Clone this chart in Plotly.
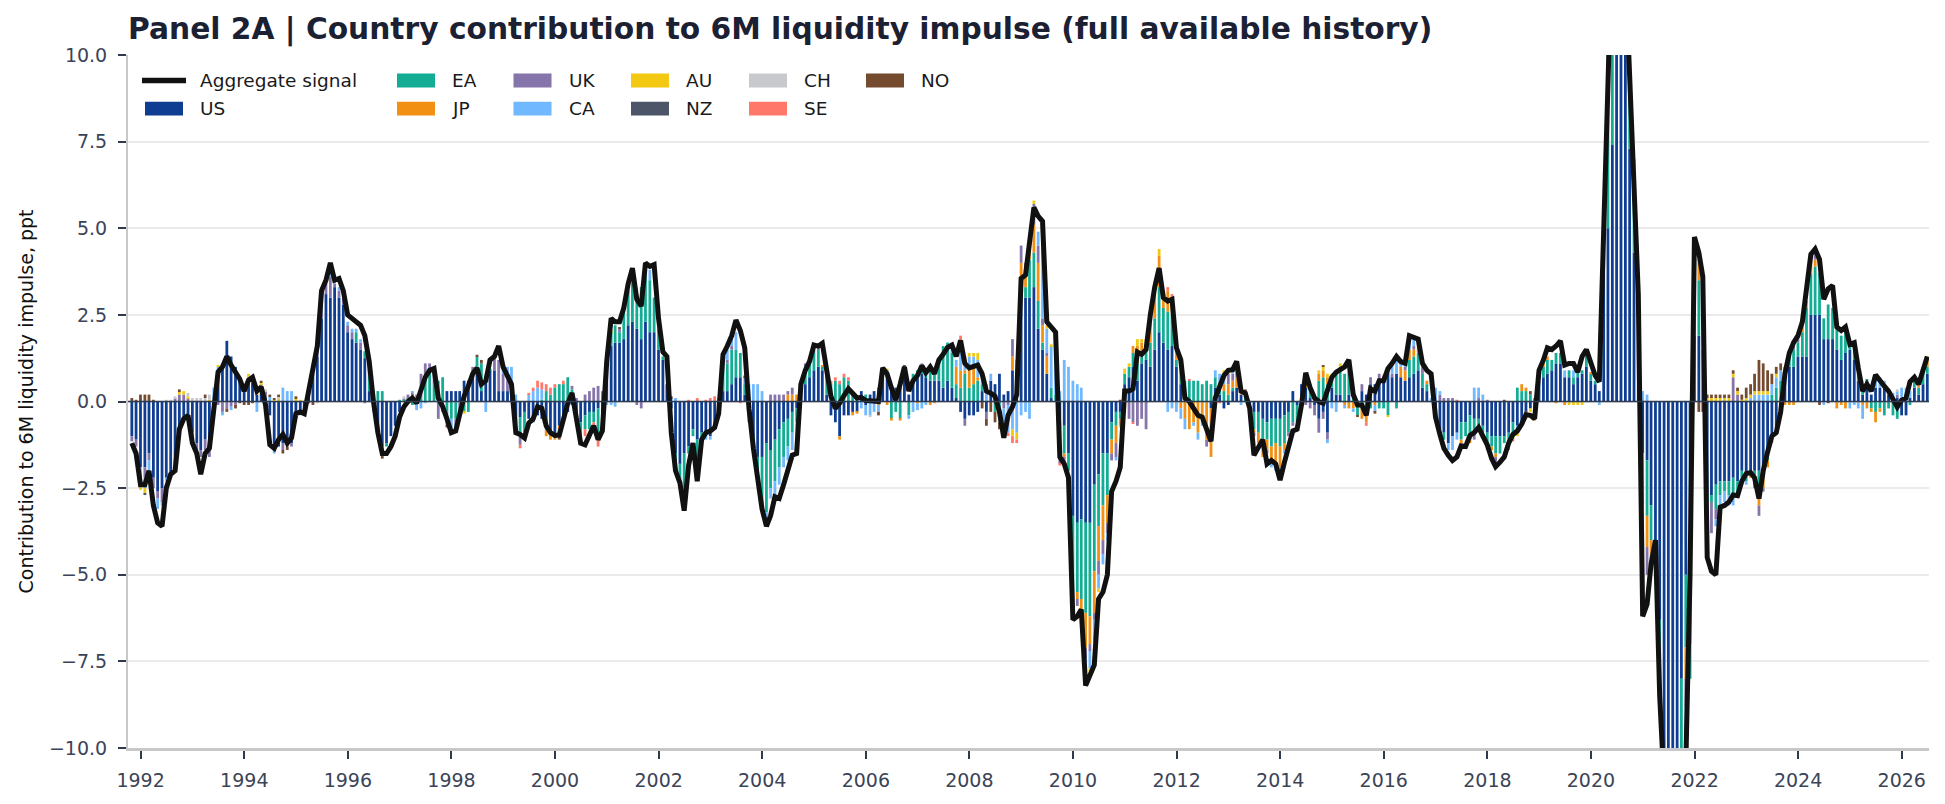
import pandas as pd
import plotly.graph_objects as go

# ---------------- data (monthly, month-end, Oct-1991 .. Jun-2026) ----------------
MONTHS = pd.date_range("1991-10-31", "2026-06-30", freq="ME")

AGGREGATE = [
    -1.2, -1.5, -2.4, -2.4, -2.0, -3.0, -3.5, -3.6, -2.5, -2.1, -2.0, -0.8,
    -0.5, -0.4, -1.2, -1.5, -2.1, -1.5, -1.35, -0.3, 0.85, 1.0, 1.3, 1.05,
    0.85, 0.65, 0.3, 0.62, 0.7, 0.3, 0.42, -0.1, -1.25, -1.35, -1.1, -0.95,
    -1.2, -1.05, -0.35, -0.3, -0.35, 0.35, 0.95, 1.6, 3.2, 3.5, 4.0, 3.5,
    3.55, 3.2, 2.5, 2.4, 2.3, 2.2, 1.9, 1.15, 0.0, -0.9, -1.5, -1.5,
    -1.3, -1.0, -0.45, -0.15, 0.0, 0.1, -0.05, 0.35, 0.7, 0.9, 0.95, 0.1,
    -0.15, -0.5, -0.9, -0.85, -0.35, 0.15, 0.45, 0.8, 0.97, 0.5, 0.6, 1.2,
    1.3, 1.6, 1.0, 0.72, 0.5, -0.9, -0.95, -1.05, -0.62, -0.5, -0.15, -0.2,
    -0.7, -0.9, -0.98, -0.97, -0.5, -0.05, 0.25, -0.6, -1.2, -1.25, -1.0, -0.7,
    -1.1, -0.85, 1.16, 2.4, 2.3, 2.3, 2.7, 3.4, 3.85, 2.95, 2.75, 4.0,
    3.9, 3.95, 2.4, 1.43, 1.3, -0.9, -2.0, -2.35, -3.15, -1.85, -1.2, -2.3,
    -1.1, -0.9, -0.85, -0.75, -0.35, 1.36, 1.6, 1.9, 2.35, 2.05, 1.55, -0.2,
    -1.35, -2.35, -3.1, -3.6, -3.3, -2.75, -2.8, -2.4, -1.95, -1.55, -1.5, 0.5,
    0.9, 1.16, 1.63, 1.6, 1.68, 0.9, 0.15, -0.2, -0.05, 0.17, 0.37, 0.24,
    0.1, 0.12, 0.03, 0.02, 0.0, 0.0, 0.97, 0.8, 0.4, 0.04, 0.5, 1.0,
    0.3, 0.6, 0.75, 1.03, 0.83, 1.0, 0.8, 1.2, 1.36, 1.56, 1.63, 1.3,
    1.76, 1.1, 0.97, 1.0, 1.05, 0.8, 0.3, 0.24, 0.15, -0.3, -1.05, -0.4,
    -0.15, 0.2, 3.55, 3.65, 4.5, 5.6, 5.35, 5.2, 2.3, 2.15, 2.0, -1.6,
    -1.8, -2.2, -6.3, -6.2, -6.0, -8.2, -7.9, -7.6, -5.7, -5.5, -5.0, -2.6,
    -2.3, -1.9, 0.3, 0.3, 0.37, 1.43, 1.36, 1.5, 2.5, 3.3, 3.85, 3.0,
    2.9, 2.95, 1.55, 1.2, 0.1, 0.0, -0.2, -0.4, -0.45, -0.8, -1.15, 0.1,
    0.4, 0.75, 0.9, 0.92, 1.16, 0.3, 0.24, -0.2, -1.55, -1.35, -1.1, -1.8,
    -1.7, -1.8, -2.27, -1.75, -1.35, -0.85, -0.8, -0.1, 0.83, 0.4, 0.1, 0.0,
    -0.05, 0.3, 0.7, 0.85, 0.93, 1.0, 1.2, 0.2, -0.1, -0.1, -0.4, 0.37,
    0.3, 0.6, 0.6, 0.95, 1.1, 1.3, 1.15, 1.1, 1.9, 1.83, 1.8, 1.1,
    0.9, 0.8, -0.45, -0.95, -1.35, -1.55, -1.7, -1.6, -1.28, -1.3, -0.98, -0.9,
    -0.75, -1.0, -1.25, -1.65, -1.88, -1.75, -1.6, -1.2, -0.95, -0.85, -0.65, -0.38,
    -0.4, -0.5, 0.9, 1.2, 1.55, 1.5, 1.6, 1.75, 1.05, 1.1, 1.1, 0.85,
    1.3, 1.5, 1.15, 0.75, 0.57, 5.0, 11.0, 13.5, 14.5, 14.0, 12.5, 9.4,
    6.2, 3.1, -6.2, -5.85, -4.7, -4.0, -8.5, -12.0, -13.5, -14.0, -13.0, -11.5,
    -10.5, -5.0, 4.75, 4.3, 3.6, -4.5, -4.9, -5.0, -3.05, -3.0, -2.9, -2.7,
    -2.72, -2.3, -2.08, -2.05, -2.2, -2.8, -2.0, -1.45, -1.0, -0.9, -0.3, 0.8,
    1.4, 1.7, 1.9, 2.3, 3.28, 4.25, 4.4, 4.1, 2.95, 3.25, 3.35, 2.15,
    2.05, 2.15, 1.65, 1.7, 0.97, 0.3, 0.5, 0.3, 0.77, 0.63, 0.44, 0.3,
    0.1, -0.16, 0.04, 0.1, 0.57, 0.7, 0.5, 0.97, 1.3,
]

US = [
    -1.0, -1.1, -1.9, -1.9, -1.5, -2.2, -2.6, -2.5, -2.2, -2.1, -1.8, -0.8,
    -0.5, -0.4, -0.9, -1.2, -1.4, -1.1, -1.3, -0.2, 0.9, 1.0, 1.75, 1.3,
    1.0, 0.55, 0.35, 0.6, 0.55, 0.2, 0.35, 0.1, -0.4, -1.3, -1.3, -1.2,
    -1.1, -1.2, -0.4, -0.3, -0.2, 0.3, 0.8, 1.3, 2.4, 3.1, 3.0, 3.3,
    3.0, 2.8, 2.0, 1.8, 1.7, 1.5, 1.25, 0.3, -0.2, -0.9, -1.3, -1.2,
    -1.0, -0.7, -0.3, 0, 0, 0, 0, 0, 0, 0, 0, 0,
    0, 0.3, 0.3, 0.3, 0.3, 0.6, 0.6, 0.9, 1.0, 0.3, 0.6, 0.9,
    0.9, 0.3, 0.3, 0.3, 0.1, -0.6, -0.45, -0.3, -0.5, -0.6, -0.4, -0.5,
    -0.8, -0.9, -1.0, -0.7, -0.4, -0.3, -0.1, -0.3, -0.6, -0.4, -0.3, -0.3,
    -0.2, -0.3, 0.9, 1.6, 1.7, 1.7, 1.8, 2.2, 2.3, 2.1, 1.8, 2.3,
    2.0, 2.0, 1.5, 1.2, 0.5, -0.2, -1.5, -1.8, -1.5, -1.3, -0.8, -1.1,
    -0.9, -0.9, -1.0, -0.7, -0.4, 0.3, 0.3, 0.5, 0.7, 0.7, 0.2, -0.4,
    -1.0, -1.6, -1.6, -1.2, -1.4, -1.1, -0.8, -0.6, -0.5, -0.3, -0.2, 0.2,
    0.5, 0.7, 0.9, 1.0, 0.9, 0.2, -0.4, -0.6, -1.0, -0.4, -0.4, -0.3,
    -0.3, 0.3, -0.1, 0.2, 0.3, 0.2, 0.9, 0.8, 0.3, 0.4, 0.5, 1.0,
    0.2, 0.6, 0.7, 0.8, 0.7, 0.6, 0.6, 0.6, 0.4, 0.6, 0.4, 0.1,
    -0.3, -0.5, -0.4, -0.4, -0.3, 0.3, -0.3, 0.6, 0.5, 0.8, 0.2, 0.3,
    0.9, 0.8, 3.1, 3.0, 3.0, 3.3, 2.1, 1.5, 0.8, 0.1, 0.0, -0.8,
    -0.7, -1.5, -3.3, -3.5, -3.4, -3.5, -3.5, -2.4, -2.1, -1.5, -1.5, -0.6,
    -0.3, -0.3, 0.5, 0.7, 1.0, 0.6, 1.1, 1.2, 1.0, 1.5, 2.0, 1.7,
    1.5, 1.6, 1.0, 0.5, 0.1, -0.1, 0, 0, 0, 0, -0.2, 0.4,
    0.2, -0.2, -0.1, 0.3, 0.4, 0.2, 0, -0.1, -0.3, -0.3, -0.5, -0.6,
    -0.5, -0.5, -0.5, -0.4, -0.3, 0.3, -0.1, 0.5, 0.4, 0.1, -0.1, -0.5,
    -0.3, -0.9, 0.4, 0.2, 0.2, 0.0, 0.2, 0, -0.1, 0.3, 0.2, 0.5,
    0.5, 0.6, 0.7, 0.9, 0.7, 0.8, 0.7, 0.6, 0.7, 0.8, 0.9, 0.4,
    0.3, 0.0, -0.4, -0.8, -0.9, -1.2, -1.0, -0.9, -0.6, -0.6, -0.4, -0.5,
    -0.5, -0.7, -0.9, -1.0, -1.0, -1.0, -1.0, -0.9, -0.6, -0.7, -0.6, -0.3,
    -0.2, -0.5, 0.6, 0.7, 0.8, 0.9, 1.1, 1.1, 0.7, 0.7, 0.5, 0.7,
    0.8, 1.0, 0.6, 0.5, 0.3, 4.3, 5.0, 7.4, 12.0, 12.0, 10.5, 7.3,
    4.3, 1.5, -1.5, -1.7, -3.0, -4.3, -6.3, -10.5, -11.0, -11.0, -10.5, -8.0,
    -5.0, -7.0, 1.9, 1.9, 1.5, -2.7, -2.7, -2.4, -2.3, -2.3, -2.3, -2.2,
    -2.3, -2.0, -2.1, -2.0, -2.0, -2.0, -1.9, -1.5, -1.0, -0.8, -0.4, 0.7,
    1.0, 1.0, 1.3, 1.3, 1.3, 2.5, 2.5, 2.5, 1.8, 1.8, 1.8, 1.5,
    1.2, 1.4, 1.5, 1.2, 0.6, 0.2, 0.6, 0.2, 0.4, 0.4, 0.4, 0.2,
    0.05, 0.1, -0.4, -0.4, 0.1, 0.4, 0.2, 0.5, 0.8,
]

EA = [
    0, 0, 0, 0, 0, 0, 0, 0, 0, 0, 0, 0,
    0, 0, 0, 0, 0, 0, 0, 0, 0, 0, 0, 0,
    0, 0, 0, 0, 0, 0, 0, 0, 0, 0, 0, 0,
    0, 0, 0, 0, 0, 0, 0, 0, 0, 0, 0, 0,
    0, 0, 0, 0, 0.3, 0, 0.2, 0.7, 0.3, 0.3, 0.3, -0.1,
    0, 0, 0.05, 0.05, 0.1, -0.1, 0, 0.1, 0.6, 0.9, 0.5, 0.6,
    0.7, -0.3, -0.5, -0.5, 0, -0.3, -0.3, 0, 0.3, 0.8, 0, 0.05,
    0, 0, 0, 0, 0, 0, -0.5, -0.6, 0, 0, 0, 0.05,
    0.3, 0.2, 0.4, 0.5, 0.5, 0.7, 0.35, -0.2, -0.4, -0.4, -0.5, -0.3,
    -0.8, -0.3, 0.1, 0.4, 0.5, 0.3, 0.9, 1.0, 1.3, 0.8, 1.5, 1.3,
    1.5, 1.0, 0.6, 0.1, 0, 0, -0.4, -0.5, -1.1, -0.2, -0.2, -0.5,
    -0.3, 0, 0, 0, 0, 0.6, 0.8, 1.0, 0.8, 0.7, 0.3, -0.2,
    -0.5, -0.8, -1.5, -2.0, -1.1, -1.2, -1.1, -1.0, -0.8, -0.6, -0.4, 0.2,
    0.3, 0.4, 0.5, 0.5, 0.1, 0.6, 0.5, 0.6, 0.5, 0.7, 0.6, 0.2,
    0.1, 0, 0.2, 0, 0, 0.2, 0, 0.1, -0.5, -0.3, -0.5, 0,
    -0.4, 0.2, 0.2, 0.2, 0.2, 0.4, 0.3, 0.6, 1.2, 1.1, 1.0, 0.4,
    0.4, 0.8, 0.4, 0.5, 0.6, 0.2, 0, 0, -0.3, -0.3, 0, 0,
    0, 0.1, 0.3, 0.3, 1.1, 1.0, 0.8, 0.2, 0, 0.3, 0.2, -0.6,
    -0.8, -0.5, -2.2, -2.0, -2.3, -2.6, -2.7, -2.5, -1.5, -1.5, -1.2, -0.5,
    -0.4, -0.2, 0.3, 0.3, 0.4, 0.5, 0.2, 0.3, 0.7, 0.9, 1.3, 1.0,
    1.1, 0.9, 0.2, 0.6, 0.5, 0.6, 0.6, 0.6, 0.5, 0.6, 0.5, 0.3,
    0.3, 0.3, 0.2, 0.1, 0, 0, 0.2, -0.3, -0.5, -0.6, -0.7, -0.5,
    -0.8, -0.7, -0.8, -0.8, -0.6, -0.6, -0.5, 0, 0, 0.3, 0.2, 0.6,
    0.7, 0.5, 0.3, 0.6, 0.8, 0.8, 0.9, 0.2, -0.3, -0.2, -0.3, -0.2,
    0, -0.2, -0.2, -0.4, 0, -0.2, 0, 0, 0.5, 0.5, 0.5, 0.4,
    0.2, 0, 0, 0, -0.2, 0, 0, 0, -0.5, -0.4, -0.6, -0.4,
    -0.2, -0.2, -0.5, -0.3, -0.5, -0.5, -0.2, -0.4, -0.3, 0.4, 0.3, 0.3,
    0.2, 0.1, 0.1, 0.3, 0.4, 0.3, 0.3, 0.3, 0, 0.2, 0.2, 0.2,
    0.1, 0.3, 0.2, 0.1, 0, 0.8, 5.0, 4.0, 1.5, 1.5, 1.5, 1.4,
    1.8, 0.6, -1.5, -1.6, -1.0, -0.5, -2.0, -1.0, -0.5, -0.5, -1.0, -2.0,
    -2.1, -1.0, 1.6, 1.6, 1.3, -0.3, -0.2, -0.7, -0.4, -0.3, -0.4, -0.5,
    -0.4, -0.2, -0.2, -0.1, -0.5, -0.5, -0.3, -0.2, 0.2, 0.4, 0.6, 0.2,
    0.3, 0.5, 0.4, 0.7, 1.4, 1.2, 1.4, 1.2, 0.6, 1.0, 0.9, 0.6,
    0.7, 0.6, 0.2, 0.3, 0.2, 0.1, 0.05, -0.2, -0.3, -0.2, -0.4, -0.2,
    -0.4, -0.5, 0, 0, -0.1, 0.3, 0.2, 0.3, 0.2,
]

JP = [
    0, 0, 0, 0, 0, 0, 0, 0, 0, 0, 0, 0,
    0, 0, 0, 0, 0, 0, 0, 0, 0, 0, 0, 0,
    0, 0, 0, 0, 0, 0, 0, 0, 0, 0, 0, 0,
    0, 0, 0, 0, 0, 0, 0, 0, 0, 0, 0, 0,
    0, 0, 0, 0, 0, 0, 0, 0, 0, 0, 0, 0,
    0, 0, 0, 0, 0, 0, 0, 0, 0, 0, 0, 0,
    0, 0, 0, 0, 0, 0, 0, 0, 0, 0, 0, 0,
    0, 0, 0, 0, 0, -0.05, 0, 0, 0, 0, 0, 0,
    -0.2, -0.2, -0.1, -0.3, 0, 0, 0, 0, 0, 0, 0, 0,
    0, 0, 0, 0, 0, 0, 0, 0, 0, 0, 0, 0,
    0, 0, 0, 0, 0, 0, 0, 0, 0, 0, 0, 0,
    0, 0, 0, 0, 0, 0, 0, 0, 0, 0, 0, 0,
    0, 0, 0, 0, 0, 0, 0, 0, 0.2, 0.2, 0.2, 0.1,
    0.2, 0, 0, 0, 0.05, 0, 0, 0, -0.1, 0, 0, -0.1,
    -0.05, 0, 0, 0, 0, -0.1, 0, -0.1, -0.05, 0, -0.05, 0,
    0, 0, -0.05, 0, 0, -0.1, -0.05, 0, 0, 0, 0, 0.5,
    0.5, 0.1, 0.6, 0.5, 0.1, 0, 0, 0, 0, 0, 0, 0,
    0.4, 0.3, 0.6, 0.3, 0.3, 0.8, 1.1, 0.5, 0.5, 0, 0, 0,
    -0.1, 0, 0, -0.2, -0.3, -1.0, -0.8, -1.2, -1.0, -1.0, -0.8, -0.4,
    -0.5, -0.2, 0, 0, 0.2, 0.5, 0.4, 0.3, 0.6, 0.7, 0.9, 0.3,
    0.6, 0.5, 0.4, -0.2, -0.5, -0.7, -0.6, -0.9, -0.5, -1.1, -1.4, -0.1,
    0, 0.2, 0.3, 0.2, 0.3, 0.1, 0.05, 0, -0.1, -0.3, -0.4, -0.3,
    -0.4, -0.6, -0.6, -0.2, 0, 0, 0, 0, 0.2, 0.1, 0, 0.2,
    0.2, 0.2, 0, 0, 0, -0.1, -0.2, -0.2, 0, -0.3, -0.3, 0,
    -0.1, 0, 0, 0, 0, 0, 0.3, 0.3, 0.3, 0.2, 0.3, 0,
    0.1, 0, 0, 0, 0, 0, 0, 0, -0.1, 0, -0.2, 0,
    0, 0, 0, -0.1, -0.1, 0, 0, -0.1, 0, 0, 0.2, 0.1,
    0, -0.05, 0, 0.1, 0.1, 0, -0.05, 0, -0.1, 0, 0, 0,
    0, 0, 0.05, 0, 0, 0, 0.5, 0, 0, 0, 0.5, 1.5,
    0.8, 0.5, -0.8, -0.9, -0.5, -0.2, 0, 0, 0, 0, 0, -0.3,
    -0.9, 0, 0.5, 0.5, 0.5, 0, 0, 0, 0, 0, 0, 0,
    0, 0, 0, -0.1, 0, -0.5, -0.3, -0.2, -0.2, 0, 0, -0.1,
    -0.1, -0.1, 0, 0.2, 0.2, 0.3, 0.2, 0, 0, 0, 0, -0.2,
    -0.1, -0.2, 0, 0, 0, -0.1, -0.2, -0.1, -0.3, -0.1, 0, 0,
    0, 0, 0, 0, 0, 0, 0.1, 0.1, 0.2,
]

UK = [
    -0.15, -0.2, 0, -0.3, -0.2, -0.3, -0.2, -0.4, 0, 0, 0.1, 0.2,
    0.2, 0.1, -0.2, -0.3, -0.2, -0.3, -0.3, -0.1, -0.1, -0.3, -0.2, -0.15,
    -0.1, 0, 0, 0, 0, 0, 0.15, 0.2, 0, 0, 0, -0.2,
    -0.2, -0.1, 0, 0, 0, 0, 0, 0.2, 0.6, 0.3, 0.6, 0.1,
    0.2, 0.2, 0.2, 0.2, 0, 0.2, -0.05, 0.1, 0, 0, 0, 0,
    0, 0, 0, 0.05, 0.1, 0.25, 0.2, 0.7, 0.5, 0.2, 0.5, -0.5,
    -0.3, -0.2, 0, -0.2, -0.4, 0, 0, 0.1, 0, 0, 0, 0,
    0.4, 0.9, 0.5, 0.3, 0, 0, -0.3, 0, 0, 0, 0, 0,
    0, 0, 0, 0, 0, 0, 0.1, 0.1, -0.1, 0.2, 0.3, 0.4,
    0.45, 0.3, 0, 0, 0, 0.1, 0, 0, 0, -0.1, -0.2, 0,
    0, 0, 0, 0, 0, 0, 0, 0, 0, 0, 0, 0,
    0, 0, 0, 0, 0, 0.1, 0.1, 0.1, 0, 0, 0, 0,
    0, 0, 0, 0, 0.2, 0.2, 0.2, 0.2, 0.1, 0.2, 0, 0.1,
    0.1, 0.1, 0.1, 0.05, 0, 0, 0, 0, 0, 0, 0, 0,
    0, 0, 0, 0, 0, 0, 0, 0, 0, 0, 0, 0,
    0, 0, 0, 0.1, 0, 0, 0, 0, 0, 0, 0, 0,
    0, -0.2, 0, 0, 0, 0, -0.2, 0, 0, 0, -0.2, -0.1,
    0.5, 0, 0.5, 0.4, 0, 0.6, 0.5, 0.2, 0.1, 0, 0, -0.4,
    -0.3, 0, -0.3, -0.2, 0, -0.3, -0.2, -0.2, -0.4, -0.4, -0.3, -0.2,
    -0.4, 0, 0, -0.5, -0.6, -0.7, -0.5, -0.8, 0, 0, 0, 0,
    0, 0, 0, 0, 0, 0, 0, 0, 0, -0.2, 0, 0,
    0, 0, 0.3, 0.2, 0.3, 0.1, 0, 0, -0.1, 0, 0, -0.1,
    0, 0, 0, 0, -0.1, -0.1, 0, -0.05, -0.1, -0.2, -0.3, -0.4,
    -0.2, -0.2, 0, 0, 0, 0, 0, 0, 0, 0.2, 0, 0.2,
    0, 0.2, 0, 0, 0.1, 0, 0, 0.1, 0, 0.1, 0, 0.3,
    0, 0, 0, 0.2, 0.1, 0.1, 0.1, 0, 0, 0, 0, -0.2,
    0.1, 0, 0.05, 0, -0.2, 0, 0, 0, 0, 0, 0, 0,
    0, 0, 0, 0, 0, 0, 0, 0, 0, 0, 0, 0,
    0, 0, 0, 0, 0, 0, 0, 0, 0, 0, 0, 0,
    0.1, 0, -0.5, -0.8, -0.3, 0, 0, 0, 0, 0, 0, 0,
    -0.8, 0, 0, 0, 0, -0.5, -0.9, -0.3, 0, 0, 0, 0.7,
    0.2, 0, 0, 0, 0, -0.3, -0.1, 0, 0, 0, 0, 0,
    0, 0.1, 0.2, 0.1, 0, 0.2, 0.3, 0, 0, 0, 0, 0,
    0, 0.2, 0, 0, 0, 0, 0, 0, 0, 0, 0, 0,
    0, 0.1, 0.1, 0.1, 0, 0, 0, 0, 0,
]

CA = [
    0, 0, -0.5, -0.3, -0.3, 0, -0.3, -0.1, -0.1, 0, 0, 0,
    0, 0, 0, -0.1, 0, 0, 0, 0.4, 0.1, -0.1, 0, -0.1,
    0, 0.1, 0.1, 0.1, 0, -0.3, 0, 0, 0.15, -0.2, 0, 0.4,
    0.3, 0.3, 0, 0, 0, 0, 0, 0, 0.1, 0.1, 0.2, 0.2,
    0.1, 0, 0.1, 0.1, 0.1, 0.1, 0, 0, -0.1, -0.1, -0.2, 0,
    0, 0, 0, 0, 0, 0.05, -0.25, -0.2, -0.05, 0, 0, 0,
    0, -0.2, -0.3, 0, 0, 0, 0, 0, 0, 0, -0.3, 0,
    0, 0, 0.2, 0.4, 0.9, 0.2, 0, 0, 0.2, 0.3, 0.4, 0.3,
    0, 0, 0, 0, 0, 0, 0, 0, 0, 0, 0, 0,
    0, 0, -0.1, -0.1, -0.15, 0, 0, 0, 0, 0, 0, 0.2,
    0.3, 0, 0, 0, 0, 0.1, 0.1, 0, 0, 0, 0, 0,
    -0.1, -0.2, -0.1, 0, -0.1, 0.2, 0.3, 0.3, 0.5, 0, 0.2, 0.5,
    0.5, 0.5, 0.3, -0.2, -0.3, -0.4, -0.5, -0.3, -0.4, -0.5, -0.5, 0,
    0, 0, 0, 0, 0, 0, 0, 0, 0, 0, 0, 0,
    0, -0.2, -0.3, -0.4, -0.3, -0.2, 0.1, 0, 0, 0, 0, 0,
    -0.1, -0.3, -0.2, -0.2, -0.1, 0, 0, 0, 0, 0, 0.2, 0.2,
    0.8, 0.3, 0.3, 0.3, 0.5, 0.4, 0.5, 0.2, 0, -0.3, -0.5, -0.8,
    -0.8, -0.9, -0.4, -0.3, -0.5, 0, 0.4, 2.3, 0.7, 1.2, 1.0, 0.3,
    1.2, 1.0, 0.6, 0.5, 0.4, -0.3, -0.5, -0.6, -0.4, -0.3, -0.2, 0,
    -0.1, 0, -0.05, 0, 0, 0, 0, 0, 0, 0, 0, 0,
    -0.3, -0.2, -0.3, -0.3, -0.3, 0, -0.1, -0.2, -0.2, 0, 0, 0.2,
    0.3, 0.3, 0, 0.1, 0, -0.1, 0, 0, 0, 0, 0, 0,
    -0.2, -0.2, -0.2, -0.1, 0, 0, 0, 0, 0, 0, 0, 0,
    0, -0.1, -0.2, -0.3, 0, -0.1, 0.1, -0.1, 0, 0, 0, 0,
    -0.2, 0, 0, 0, 0.3, 0.4, 0.2, 0.1, 0.2, 0.3, 0, 0,
    0, 0.1, 0.4, 0.1, 0, -0.2, -0.4, -0.2, 0, 0, 0, 0.4,
    0.3, 0.2, 0, 0, 0, 0, 0, 0, -0.1, -0.2, 0, 0,
    0, 0, 0, 0, 0, 0, 0, 0, 0.2, 0, 0.2, 0,
    0, 0, 0, 0, -0.1, 0, 0, 0, 0, 0, 0, 0,
    0, 0, 0.3, 0.2, 0, 0, 0, 0, 0, 0, 0, 0,
    -0.7, 0, 0, 0, 0, 0, 0, -0.2, -0.3, -0.3, -0.3, -0.3,
    0, -0.2, -0.1, 0.1, 0.2, 0.2, 0.2, 0.2, 0.3, 0.3, 0.3, 0,
    0, 0, 0.05, 0, 0, 0, 0, 0, -0.1, 0, 0, 0,
    0, 0, -0.2, -0.1, -0.2, -0.4, 0, 0, 0.3, 0.3, 0.2, 0.1,
    0.2, 0.1, 0.3, 0.3, 0.2, 0, 0, 0.1, 0,
]

# small contributors: {month index (0 = Oct-1991): value}, all other months 0
AU = {2: -0.15, 3: -0.15, 11: 0.1, 12: 0.1, 13: 0.05, 18: 0.05, 20: 0.05, 27: 0.1,
      28: 0.05, 29: 0.05, 30: 0.05, 33: 0.05, 34: 0.1, 38: 0.1, 39: 0.05, 77: -0.05,
      111: 0.05, 149: -0.1, 161: 0.05, 175: 0.05, 194: 0.1, 195: 0.1, 196: 0.2,
      202: -0.1, 204: -0.2, 205: -0.2, 209: 0.1, 212: 0.1, 213: 0.05, 218: -0.2,
      221: -0.2, 222: -0.2, 224: -0.1, 229: -0.05, 230: 0.15, 231: 0.1, 233: 0.2,
      234: 0.1, 236: 0.1, 238: 0.2, 239: 0.1, 253: 0.1, 254: 0.1, 272: 0.1, 275: 0.1,
      276: 0.1, 277: 0.1, 278: 0.1, 279: 0.1, 280: 0.1, 291: -0.05, 320: -0.1,
      321: -0.1, 324: -0.1, 333: -0.1, 334: -0.1, 335: -0.1, 336: -0.1, 362: 0.3,
      363: 0.1, 365: 0.1, 366: 0.1, 367: 0.1, 368: 0.1, 369: 0.1, 370: 0.1, 371: 0.1,
      372: 0.1, 373: 0.05, 374: 0.1, 375: 0.1, 376: 0.1, 377: 0.1, 378: 0.1, 379: 0.1,
      381: 0.1, 416: 0.1}
NZ = {3: -0.05, 128: -0.05, 221: -0.1, 222: -0.05, 362: 0.05}
CH = {8: 0.05, 9: 0.05, 10: 0.05, 13: 0.1, 14: 0.1, 15: 0.1, 16: 0.1, 17: 0.1, 18: 0.15,
      31: 0.05, 34: 0.05, 39: -0.1, 40: -0.1, 43: -0.05, 63: 0.05, 74: -0.1, 171: -0.05,
      409: 0.05}
SE = {89: -0.1, 90: -0.1, 91: -0.05, 92: 0.05, 93: 0.1, 94: 0.2, 95: 0.2, 96: 0.2, 97: 0.2,
      98: 0.1, 100: 0.1, 105: -0.2, 107: -0.15, 108: -0.3, 129: 0.05, 131: 0.1, 133: 0.05,
      134: 0.1, 135: 0.15, 136: 0.1, 141: -0.05, 161: 0.05, 162: 0.1, 163: 0.1, 164: 0.1,
      165: 0.1, 166: 0.1, 192: 0.2, 193: 0.1, 203: -0.1, 204: -0.2, 205: -0.1, 215: -0.05,
      221: -0.1, 232: -0.05, 240: 0.1, 241: 0.1, 243: 0.1, 245: 0.05, 252: -0.05,
      258: 0.05, 286: -0.1, 290: 0.05, 307: 0.05, 320: -0.05, 322: -0.05, 390: 0.05}
NO = {0: 0.1, 1: 0.05, 2: 0.2, 3: 0.2, 4: 0.2, 5: 0.05, 11: 0.05, 17: 0.1, 22: -0.1,
      24: -0.1, 25: -0.05, 26: -0.1, 27: -0.1, 28: -0.05, 30: 0.05, 32: 0.05, 33: 0.05,
      34: 0.05, 35: -0.1, 36: -0.1, 38: 0.05, 41: -0.05, 42: -0.1, 55: 0.05, 58: -0.15,
      64: -0.05, 73: -0.05, 80: 0.05, 81: 0.1, 99: -0.1, 113: 0.05, 125: 0.05, 128: -0.1,
      142: 0.05, 147: -0.1, 173: -0.1, 179: 0.05, 197: -0.2, 198: -0.2, 199: -0.3,
      200: -0.3, 201: -0.2, 202: -0.1, 218: -0.1, 221: -0.1, 229: 0.05, 258: 0.05,
      276: 0.05, 284: -0.05, 288: -0.05, 302: -0.05, 318: 0.05, 323: -0.05, 324: 0.1,
      337: 0.1, 362: 0.1, 363: -0.3, 364: -0.3, 365: 0.1, 366: 0.1, 367: 0.1, 368: 0.1,
      369: 0.1, 370: 0.1, 371: 0.1, 372: 0.1, 373: 0.15, 374: 0.3, 375: 0.3, 376: 0.5,
      377: 0.9, 378: 0.8, 379: 0.6, 380: 0.3, 381: 0.2, 382: 0.2, 383: 0.1, 391: -0.1,
      393: -0.05, 407: 0.05, 413: 0.05}

COUNTRIES = ["US", "EA", "JP", "UK", "CA", "AU", "NZ", "CH", "SE", "NO"]
Y_TICKS = [-10.0, -7.5, -5.0, -2.5, 0.0, 2.5, 5.0, 7.5, 10.0]

# ---------------- styling ----------------
N = len(MONTHS)


def full(series):
    if isinstance(series, dict):
        out = [0.0] * N
        for k, v in series.items():
            out[k] = v
        return out
    assert len(series) == N, (len(series), N)
    return series


SERIES = {"US": full(US), "EA": full(EA), "JP": full(JP), "UK": full(UK), "CA": full(CA),
          "AU": full(AU), "NZ": full(NZ), "CH": full(CH), "SE": full(SE), "NO": full(NO)}
assert len(AGGREGATE) == N, (len(AGGREGATE), N)

COLORS = {"US": "#0E3D92", "EA": "#12AD94", "JP": "#F29013", "UK": "#8675AB",
          "CA": "#70B8FF", "AU": "#F2C811", "NZ": "#4D5569", "CH": "#C8C9CD",
          "SE": "#FF786A", "NO": "#754B30"}

FONT = "DejaVu Sans"
W, H = 1945, 804
ML, MR, MT, MB = 128, 16, 55, 56
PW, PH = W - ML - MR, H - MT - MB


def px(x):
    return (x - ML) / PW


def py(y):
    return (H - MB - y) / PH


fig = go.Figure()
for c in COUNTRIES:
    fig.add_trace(go.Bar(x=MONTHS, y=SERIES[c], name=c, marker_color=COLORS[c],
                         marker_line_width=0, showlegend=False))
fig.add_trace(go.Scatter(x=MONTHS, y=AGGREGATE, name="Aggregate signal", mode="lines",
                         line=dict(color="#111111", width=5), showlegend=False))

shapes = [dict(type="line", xref="paper", yref="y", x0=0, x1=1, y0=0, y1=0,
               line=dict(color="#2F3A4D", width=1.6), layer="above")]
annotations = []

# legend (two rows, six columns)
legend_items = [("Aggregate signal", None, 0, 0), ("US", "US", 0, 1),
                ("EA", "EA", 1, 0), ("JP", "JP", 1, 1),
                ("UK", "UK", 2, 0), ("CA", "CA", 2, 1),
                ("AU", "AU", 3, 0), ("NZ", "NZ", 3, 1),
                ("CH", "CH", 4, 0), ("SE", "SE", 4, 1),
                ("NO", "NO", 5, 0)]
col_x = [145, 397, 513.5, 631, 749, 866]
row_y = [80.5, 108.7]
for label, key, col, row in legend_items:
    x0 = col_x[col]
    yc = row_y[row]
    if key is None:
        shapes.append(dict(type="line", xref="paper", yref="paper",
                           x0=px(x0 - 3), x1=px(x0 + 41), y0=py(yc), y1=py(yc),
                           line=dict(color="#111111", width=5.5), layer="above"))
    else:
        shapes.append(dict(type="rect", xref="paper", yref="paper",
                           x0=px(x0), x1=px(x0 + 38), y0=py(yc - 6.9), y1=py(yc + 6.9),
                           fillcolor=COLORS[key], line=dict(width=0), layer="above"))
    annotations.append(dict(text=label, xref="paper", yref="paper", x=px(x0 + 53), y=py(yc),
                            xanchor="left", yanchor="middle", showarrow=False,
                            font=dict(family=FONT, size=18.5, color="#1A1A1A")))

# y-axis title
annotations.append(dict(text="Contribution to 6M liquidity impulse, ppt", xref="paper",
                        yref="paper", x=px(25), y=0.5, xanchor="center", yanchor="middle",
                        textangle=-90, showarrow=False,
                        font=dict(family=FONT, size=19, color="#111111")))

fig.update_layout(
    width=W, height=H,
    margin=dict(l=ML, r=MR, t=MT, b=MB, autoexpand=False),
    paper_bgcolor="white", plot_bgcolor="white",
    barmode="relative", bargap=0.3,
    title=dict(text="Panel 2A | Country contribution to 6M liquidity impulse (full available history)",
               x=0, xref="paper", xanchor="left", y=1 - 29 / H, yref="container",
               yanchor="middle",
               font=dict(family=FONT, size=29.7, color="#1B2033", weight="bold")),
    font=dict(family=FONT, size=19, color="#3B4457"),
    shapes=shapes, annotations=annotations,
    xaxis=dict(type="date", range=["1991-10-04", "2026-07-12"], tickformat="%Y",
               dtick="M24", tick0="1992-01-01", showgrid=False, zeroline=False,
               showline=True, linecolor="#C8C8C8", linewidth=2.5,
               ticks="outside", ticklen=8, tickwidth=2, tickcolor="#2F3A4D",
               ticklabelstandoff=5,
               tickfont=dict(family=FONT, size=19, color="#3B4457")),
    yaxis=dict(range=[-10, 10], tickvals=Y_TICKS, tickformat=".1f",
               showgrid=True, gridcolor="#EBEBEB", gridwidth=1.6, zeroline=False,
               showline=True, linecolor="#C8C8C8", linewidth=2,
               ticks="outside", ticklen=8, tickwidth=2, tickcolor="#2F3A4D",
               ticklabelstandoff=7,
               tickfont=dict(family=FONT, size=19, color="#3B4457")),
    showlegend=False,
)

fig.write_html("out.html")
